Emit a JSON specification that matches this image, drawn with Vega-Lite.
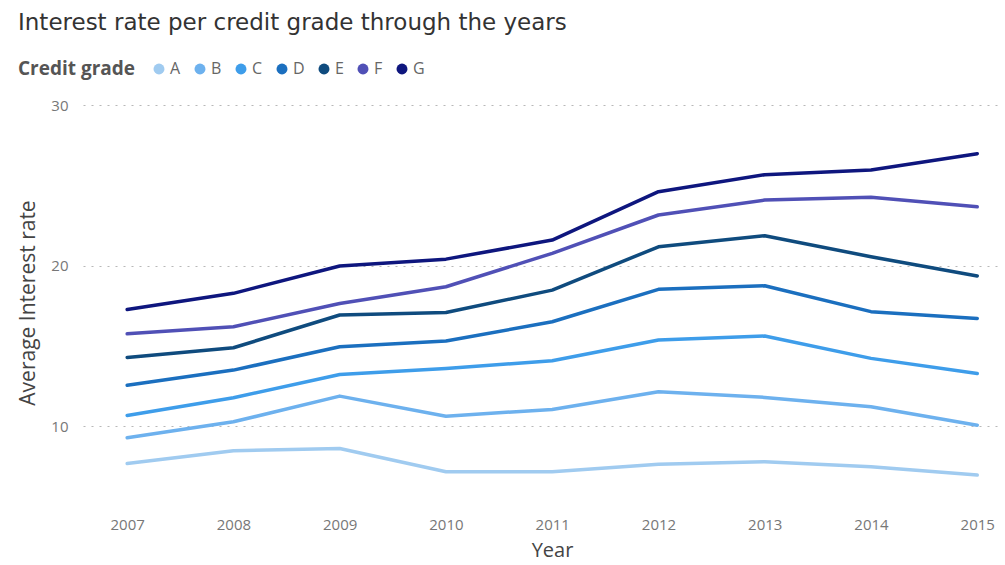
{
  "$schema": "https://vega.github.io/schema/vega-lite/v6.json",
  "width": 917,
  "height": 395,
  "autosize": {"type": "none"},
  "padding": {"left": 83, "top": 105, "right": 5, "bottom": 65},
  "background": "white",
  "title": {
    "text": "Interest rate per credit grade through the years",
    "anchor": "start",
    "frame": "group",
    "dx": -65,
    "offset": 26,
    "fontSize": 23,
    "font": "DejaVu Sans",
    "fontWeight": "normal",
    "color": "#333333"
  },
  "data": {
    "values": [
      {"Year": "2007", "Grade": "A", "Rate": 7.67},
      {"Year": "2008", "Grade": "A", "Rate": 8.47},
      {"Year": "2009", "Grade": "A", "Rate": 8.61},
      {"Year": "2010", "Grade": "A", "Rate": 7.16},
      {"Year": "2011", "Grade": "A", "Rate": 7.16},
      {"Year": "2012", "Grade": "A", "Rate": 7.63},
      {"Year": "2013", "Grade": "A", "Rate": 7.78},
      {"Year": "2014", "Grade": "A", "Rate": 7.47},
      {"Year": "2015", "Grade": "A", "Rate": 6.95},
      {"Year": "2007", "Grade": "B", "Rate": 9.28},
      {"Year": "2008", "Grade": "B", "Rate": 10.27},
      {"Year": "2009", "Grade": "B", "Rate": 11.87},
      {"Year": "2010", "Grade": "B", "Rate": 10.62},
      {"Year": "2011", "Grade": "B", "Rate": 11.04},
      {"Year": "2012", "Grade": "B", "Rate": 12.14},
      {"Year": "2013", "Grade": "B", "Rate": 11.79},
      {"Year": "2014", "Grade": "B", "Rate": 11.21},
      {"Year": "2015", "Grade": "B", "Rate": 10.06},
      {"Year": "2007", "Grade": "C", "Rate": 10.66},
      {"Year": "2008", "Grade": "C", "Rate": 11.77},
      {"Year": "2009", "Grade": "C", "Rate": 13.22},
      {"Year": "2010", "Grade": "C", "Rate": 13.59},
      {"Year": "2011", "Grade": "C", "Rate": 14.07},
      {"Year": "2012", "Grade": "C", "Rate": 15.36},
      {"Year": "2013", "Grade": "C", "Rate": 15.61},
      {"Year": "2014", "Grade": "C", "Rate": 14.22},
      {"Year": "2015", "Grade": "C", "Rate": 13.28},
      {"Year": "2007", "Grade": "D", "Rate": 12.55},
      {"Year": "2008", "Grade": "D", "Rate": 13.49},
      {"Year": "2009", "Grade": "D", "Rate": 14.94},
      {"Year": "2010", "Grade": "D", "Rate": 15.3},
      {"Year": "2011", "Grade": "D", "Rate": 16.5},
      {"Year": "2012", "Grade": "D", "Rate": 18.52},
      {"Year": "2013", "Grade": "D", "Rate": 18.74},
      {"Year": "2014", "Grade": "D", "Rate": 17.13},
      {"Year": "2015", "Grade": "D", "Rate": 16.71},
      {"Year": "2007", "Grade": "E", "Rate": 14.28},
      {"Year": "2008", "Grade": "E", "Rate": 14.88},
      {"Year": "2009", "Grade": "E", "Rate": 16.92},
      {"Year": "2010", "Grade": "E", "Rate": 17.08},
      {"Year": "2011", "Grade": "E", "Rate": 18.47},
      {"Year": "2012", "Grade": "E", "Rate": 21.17},
      {"Year": "2013", "Grade": "E", "Rate": 21.86},
      {"Year": "2014", "Grade": "E", "Rate": 20.55},
      {"Year": "2015", "Grade": "E", "Rate": 19.35},
      {"Year": "2007", "Grade": "F", "Rate": 15.75},
      {"Year": "2008", "Grade": "F", "Rate": 16.19},
      {"Year": "2009", "Grade": "F", "Rate": 17.64},
      {"Year": "2010", "Grade": "F", "Rate": 18.68},
      {"Year": "2011", "Grade": "F", "Rate": 20.76},
      {"Year": "2012", "Grade": "F", "Rate": 23.15},
      {"Year": "2013", "Grade": "F", "Rate": 24.08},
      {"Year": "2014", "Grade": "F", "Rate": 24.25},
      {"Year": "2015", "Grade": "F", "Rate": 23.66},
      {"Year": "2007", "Grade": "G", "Rate": 17.27},
      {"Year": "2008", "Grade": "G", "Rate": 18.27},
      {"Year": "2009", "Grade": "G", "Rate": 19.97},
      {"Year": "2010", "Grade": "G", "Rate": 20.4},
      {"Year": "2011", "Grade": "G", "Rate": 21.59},
      {"Year": "2012", "Grade": "G", "Rate": 24.6},
      {"Year": "2013", "Grade": "G", "Rate": 25.66},
      {"Year": "2014", "Grade": "G", "Rate": 25.95},
      {"Year": "2015", "Grade": "G", "Rate": 26.97}
    ]
  },
  "mark": {"type": "line", "strokeWidth": 3.5, "strokeCap": "round", "strokeJoin": "round"},
  "encoding": {
    "x": {
      "field": "Year",
      "type": "ordinal",
      "scale": {"type": "point", "padding": 0.315, "align": 0.66},
      "axis": {
        "title": "Year",
        "labelAngle": 0,
        "domain": false,
        "ticks": false,
        "grid": false,
        "labelPadding": 17,
        "labelFontSize": 15,
        "labelColor": "#777777",
        "labelFont": "Open Sans",
        "titleFont": "Open Sans",
        "titleFontSize": 20,
        "titleFontWeight": "normal",
        "titleColor": "#444444",
        "titlePadding": 8,
        "titleX": 469
      }
    },
    "y": {
      "field": "Rate",
      "type": "quantitative",
      "scale": {"domain": [5.4, 30], "nice": false, "zero": false},
      "axis": {
        "title": "Average Interest rate",
        "values": [10, 20, 30],
        "domain": false,
        "ticks": false,
        "grid": true,
        "gridDash": [2, 6],
        "gridColor": "#b8b8b8",
        "gridWidth": 1.2,
        "labelPadding": 15,
        "labelFontSize": 15,
        "labelColor": "#777777",
        "labelFont": "Open Sans",
        "titleFont": "Open Sans",
        "titleFontSize": 21,
        "titleFontWeight": "normal",
        "titleColor": "#444444",
        "titlePadding": 12
      }
    },
    "color": {
      "field": "Grade",
      "type": "nominal",
      "scale": {
        "domain": ["A", "B", "C", "D", "E", "F", "G"],
        "range": ["#A0CBF0", "#6DB1EE", "#3E9DEA", "#1B6FBF", "#0F4B7E", "#5050B6", "#0E167E"]
      },
      "legend": {
        "title": "Credit grade",
        "orient": "none",
        "legendX": -65,
        "legendY": -44,
        "direction": "horizontal",
        "titleOrient": "left",
        "titleFontSize": 19,
        "titleFontWeight": "bold",
        "titleColor": "#555555",
        "titleFont": "Open Sans",
        "titlePadding": 15,
        "labelFontSize": 16,
        "labelColor": "#666666",
        "labelFont": "Open Sans",
        "labelOffset": 3,
        "symbolType": "circle",
        "symbolSize": 120,
        "symbolStrokeWidth": 0,
        "columnPadding": 11,
        "encode": {
          "symbols": {
            "update": {
              "fill": {"scale": "color", "field": "value"},
              "strokeWidth": {"value": 0}
            }
          }
        }
      }
    }
  },
  "config": {"view": {"stroke": null}}
}
